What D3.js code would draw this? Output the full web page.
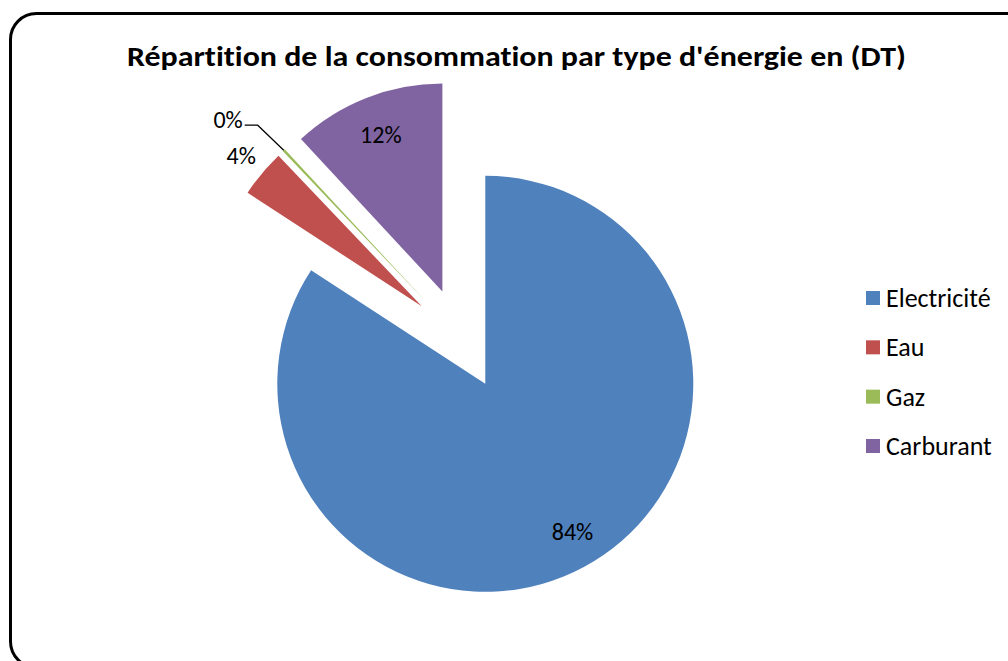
<!DOCTYPE html>
<html>
<head>
<meta charset="utf-8">
<script src="https://cdn.jsdelivr.net/npm/d3@7"></script>
<style>
  body { margin: 0; background: #fff; }
  svg { display: block; }
  text { font-variant-ligatures: none; }
</style>
</head>
<body>
<div class="chart"></div>
<script>
// data (percent of total, DT)
var categories = ["Electricité", "Eau", "Gaz", "Carburant"];
var values = [84.2, 3.7, 0.2, 11.9];
var colors = ["#4F81BD", "#C0504D", "#9BBB59", "#8064A2"];
var title = "Répartition de la consommation par type d'énergie en (DT)";

var width = 1008, height = 661;
var radius = 208;
var explode = 51;
var cx = 461, cy = 339;

var data = categories.map(function(c, i) { return { name: c, value: values[i] }; });

var svg = d3.select('.chart')
  .append('svg')
    .attr('width', width)
    .attr('height', height);

// frame
svg.append('rect')
  .attr('x', 10.5).attr('y', 13.5)
  .attr('width', 1030).attr('height', 654)
  .attr('rx', 26).attr('ry', 26)
  .attr('fill', 'white')
  .attr('stroke', 'black')
  .attr('stroke-width', 3);

// title
svg.append('text')
  .attr('x', 516.5).attr('y', 66)
  .attr('text-anchor', 'middle')
  .attr('textLength', 779)
  .attr('lengthAdjust', 'spacingAndGlyphs')
  .style('font-family', 'Calibri, Carlito, Lato, sans-serif')
  .style('font-weight', 'bold')
  .style('font-size', '29px')
  .text(title);

var color = d3.scaleOrdinal().domain(categories).range(colors);

var pie = d3.pie()
  .sort(null)
  .value(function(d) { return d.value; })
  (data);

var arc = d3.arc().innerRadius(0).outerRadius(radius);

var total = d3.sum(values);

function mid(d) { return (d.startAngle + d.endAngle) / 2; }
function offset(d, r) { var a = mid(d); return [r * Math.sin(a), -r * Math.cos(a)]; }

var slices = svg.selectAll('g.slice')
  .data(pie)
  .enter()
  .append('g')
    .attr('class', 'slice')
    .attr('transform', function(d) {
      var o = offset(d, explode);
      return 'translate(' + (cx + o[0]) + ',' + (cy + o[1]) + ')';
    });

slices.append('path')
  .attr('d', arc)
  .attr('fill', function(d) { return color(d.data.name); });

// data labels
slices.each(function(d) {
  var g = d3.select(this);
  var pct = d.data.value / total * 100;
  var txt = Math.round(pct) + '%';
  if (pct < 1) {
    // tiny slice: label with a leader line
    var p0 = offset(d, radius);
    var p1 = [p0[0] - 26, p0[1] - 25];
    var p2 = [p1[0] - 13, p1[1]];
    g.append('polyline')
      .attr('points', [p0, p1, p2].map(function(p) { return p.join(','); }).join(' '))
      .attr('fill', 'none')
      .attr('stroke', 'black')
      .attr('stroke-width', 1.2);
    g.append('text')
      .attr('x', p2[0] - 2).attr('y', p2[1] - 6)
      .attr('text-anchor', 'end')
      .attr('dominant-baseline', 'central')
      .style('font-family', 'Calibri, Carlito, Lato, sans-serif')
      .style('font-size', '24px')
      .text(txt);
  } else {
    var r = pct < 6 ? radius * 1.13 : radius * 0.81;
    var p = offset(d, r);
    if (pct > 50) p[0] += 7;
    g.append('text')
      .attr('x', p[0]).attr('y', p[1])
      .attr('text-anchor', 'middle')
      .attr('dominant-baseline', 'central')
      .style('font-family', 'Calibri, Carlito, Lato, sans-serif')
      .style('font-size', '24px')
      .text(txt);
  }
});

// legend
var legendY = d3.scalePoint().domain(categories).range([298, 446]);

var legend = svg.selectAll('g.legend')
  .data(categories)
  .enter()
  .append('g')
    .attr('class', 'legend')
    .attr('transform', function(d) { return 'translate(866,' + legendY(d) + ')'; });

legend.append('rect')
  .attr('x', 0).attr('y', -7)
  .attr('width', 14).attr('height', 14)
  .attr('fill', function(d) { return color(d); });

legend.append('text')
  .attr('x', 20).attr('y', 0)
  .attr('dominant-baseline', 'central')
  .style('font-family', 'Calibri, Carlito, Lato, sans-serif')
  .style('font-size', '26px')
  .text(function(d) { return d; });
</script>
</body>
</html>
